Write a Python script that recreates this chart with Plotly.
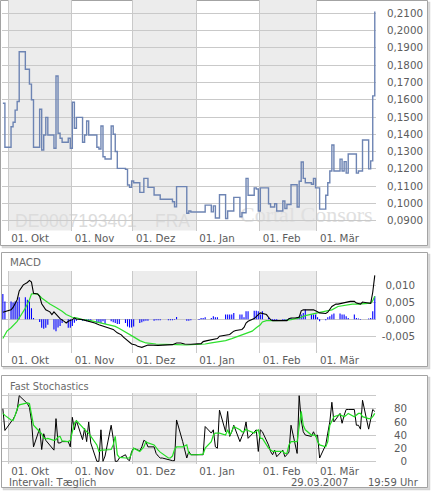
import pandas as pd
import plotly.graph_objects as go

W, H = 432, 494

# ---------------- data ----------------
price_dates = [
    "2006-09-28", "2006-09-29", "2006-10-02", "2006-10-03", "2006-10-04", "2006-10-05", "2006-10-06",
    "2006-10-09", "2006-10-11", "2006-10-12", "2006-10-13", "2006-10-16", "2006-10-17", "2006-10-18",
    "2006-10-19", "2006-10-20", "2006-10-23", "2006-10-24", "2006-10-25", "2006-10-26", "2006-10-27",
    "2006-10-30", "2006-10-31", "2006-11-01", "2006-11-02", "2006-11-03", "2006-11-06", "2006-11-07",
    "2006-11-08", "2006-11-09", "2006-11-13", "2006-11-14", "2006-11-15", "2006-11-16", "2006-11-17",
    "2006-11-20", "2006-11-21", "2006-11-22", "2006-11-23", "2006-11-27", "2006-11-28", "2006-11-29",
    "2006-11-30", "2006-12-01", "2006-12-04", "2006-12-06", "2006-12-08", "2006-12-11", "2006-12-14",
    "2006-12-20", "2006-12-21", "2006-12-22", "2006-12-27", "2006-12-28", "2006-12-29", "2007-01-05",
    "2007-01-08", "2007-01-09", "2007-01-10", "2007-01-12", "2007-01-15", "2007-01-16", "2007-01-19",
    "2007-01-22", "2007-01-23", "2007-01-25", "2007-01-26", "2007-01-29", "2007-01-30", "2007-01-31",
    "2007-02-01", "2007-02-05", "2007-02-06", "2007-02-08", "2007-02-09", "2007-02-12", "2007-02-13",
    "2007-02-14", "2007-02-16", "2007-02-19", "2007-02-20", "2007-02-21", "2007-02-22", "2007-02-23",
    "2007-02-26", "2007-02-27", "2007-02-28", "2007-03-02", "2007-03-05", "2007-03-06", "2007-03-07",
    "2007-03-08", "2007-03-09", "2007-03-12", "2007-03-13", "2007-03-14", "2007-03-15", "2007-03-16",
    "2007-03-20", "2007-03-21", "2007-03-23", "2007-03-26", "2007-03-27", "2007-03-28", "2007-03-29",
]
price_values = [
    0.1580, 0.1325, 0.1444, 0.1470, 0.1540, 0.1590, 0.1878,
    0.1776, 0.1690, 0.1600, 0.1325, 0.1545, 0.1309, 0.1396,
    0.1498, 0.1396, 0.1319, 0.1737, 0.1406, 0.1377, 0.1354,
    0.1377, 0.1319, 0.1585, 0.1435, 0.1498, 0.1354, 0.1396,
    0.1477, 0.1396, 0.1325, 0.1315, 0.1448, 0.1270, 0.1257,
    0.1448, 0.1400, 0.1300, 0.1203, 0.1197, 0.1107, 0.1093,
    0.1130, 0.1120, 0.1064, 0.1145, 0.1093, 0.1049, 0.1024,
    0.1010, 0.0980, 0.1097, 0.0943, 0.0956, 0.0950, 0.0990,
    0.0951, 0.0986, 0.0916, 0.1050, 0.0913, 0.0956, 0.1035,
    0.0923, 0.0946, 0.1145, 0.1047, 0.1090, 0.1083, 0.0956,
    0.1090, 0.0998, 0.0979, 0.0998, 0.0956, 0.1014, 0.0971,
    0.0994, 0.1108, 0.0979, 0.1128, 0.1240, 0.1145, 0.1120,
    0.1111, 0.1145, 0.1090, 0.0967, 0.1047, 0.1120, 0.1188,
    0.1338, 0.1188, 0.1256, 0.1188, 0.1242, 0.1175, 0.1286,
    0.1175, 0.1188, 0.1367, 0.1200, 0.1246, 0.1622, 0.2110,
]

macd_dates = [
    "2006-09-28", "2006-10-02", "2006-10-03", "2006-10-05", "2006-10-06", "2006-10-07", "2006-10-08",
    "2006-10-10", "2006-10-11", "2006-10-12", "2006-10-13", "2006-10-15", "2006-10-16", "2006-10-17",
    "2006-10-18", "2006-10-19", "2006-10-21", "2006-10-22", "2006-10-23", "2006-10-24", "2006-10-25",
    "2006-10-26", "2006-10-28", "2006-10-29", "2006-10-30", "2006-11-01", "2006-11-02", "2006-11-03",
    "2006-11-06", "2006-11-08", "2006-11-10", "2006-11-12", "2006-11-14", "2006-11-15", "2006-11-18",
    "2006-11-19", "2006-11-21", "2006-11-23", "2006-11-25", "2006-11-26", "2006-11-28", "2006-11-30",
    "2006-12-02", "2006-12-03", "2006-12-05", "2006-12-07", "2006-12-08", "2006-12-13", "2006-12-18",
    "2006-12-20", "2006-12-22", "2006-12-24", "2006-12-26", "2006-12-29", "2007-01-03", "2007-01-04",
    "2007-01-06", "2007-01-08", "2007-01-11", "2007-01-12", "2007-01-15", "2007-01-17", "2007-01-19",
    "2007-01-20", "2007-01-23", "2007-01-24", "2007-01-25", "2007-01-26", "2007-01-29", "2007-01-30",
    "2007-01-31", "2007-02-01", "2007-02-02", "2007-02-04", "2007-02-05", "2007-02-06", "2007-02-07",
    "2007-02-10", "2007-02-12", "2007-02-14", "2007-02-15", "2007-02-16", "2007-02-18", "2007-02-20",
    "2007-02-21", "2007-02-22", "2007-02-25", "2007-02-27", "2007-03-01", "2007-03-02", "2007-03-05",
    "2007-03-06", "2007-03-08", "2007-03-10", "2007-03-11", "2007-03-14", "2007-03-17", "2007-03-19",
    "2007-03-20", "2007-03-22", "2007-03-23", "2007-03-25", "2007-03-27", "2007-03-28", "2007-03-29",
]
macd_values = [
    0.0021, 0.0028, 0.0035, 0.0058, 0.0084, 0.0092, 0.0102,
    0.0109, 0.0115, 0.0110, 0.0077, 0.0075, 0.0068, 0.0046,
    0.0035, 0.0028, 0.0022, 0.0014, 0.0022, 0.0016, 0.0009,
    0.0002, -0.0006, -0.0011, -0.0006, -0.0001, 0.0004, 0.0001,
    -0.0001, -0.0004, -0.0006, -0.0011, -0.0016, -0.0018, -0.0024,
    -0.0027, -0.0030, -0.0040, -0.0046, -0.0053, -0.0064, -0.0073,
    -0.0076, -0.0080, -0.0083, -0.0079, -0.0076, -0.0077, -0.0077,
    -0.0075, -0.0070, -0.0070, -0.0073, -0.0074, -0.0072, -0.0066,
    -0.0063, -0.0060, -0.0057, -0.0050, -0.0048, -0.0045, -0.0035,
    -0.0033, -0.0030, -0.0024, -0.0011, -0.0006, 0.0002, 0.0009,
    0.0014, 0.0019, 0.0017, 0.0014, 0.0006, -0.0001, -0.0004,
    -0.0004, -0.0006, -0.0004, 0.0002, 0.0004, 0.0004, 0.0006,
    0.0025, 0.0028, 0.0028, 0.0028, 0.0022, 0.0019, 0.0017,
    0.0021, 0.0038, 0.0045, 0.0045, 0.0049, 0.0053, 0.0053,
    0.0048, 0.0045, 0.0051, 0.0049, 0.0047, 0.0080, 0.0130,
]

signal_dates = [
    "2006-09-28", "2006-09-30", "2006-10-02", "2006-10-05", "2006-10-06", "2006-10-09", "2006-10-11",
    "2006-10-12", "2006-10-13", "2006-10-15", "2006-10-17", "2006-10-19", "2006-10-21", "2006-10-24",
    "2006-10-27", "2006-10-29", "2006-11-01", "2006-11-03", "2006-11-06", "2006-11-10", "2006-11-13",
    "2006-11-16", "2006-11-19", "2006-11-22", "2006-11-24", "2006-11-28", "2006-12-01", "2006-12-04",
    "2006-12-07", "2006-12-12", "2006-12-17", "2006-12-22", "2006-12-27", "2007-01-03", "2007-01-05",
    "2007-01-08", "2007-01-11", "2007-01-15", "2007-01-18", "2007-01-21", "2007-01-24", "2007-01-28",
    "2007-01-30", "2007-02-01", "2007-02-02", "2007-02-04", "2007-02-06", "2007-02-10", "2007-02-13",
    "2007-02-16", "2007-02-20", "2007-02-23", "2007-02-26", "2007-03-01", "2007-03-05", "2007-03-08",
    "2007-03-11", "2007-03-14", "2007-03-18", "2007-03-21", "2007-03-24", "2007-03-27", "2007-03-28",
    "2007-03-29",
]
signal_values = [
    -0.0057, -0.0035, -0.0025, -0.0006, 0.0004, 0.0033, 0.0058,
    0.0075, 0.0076, 0.0075, 0.0063, 0.0053, 0.0045, 0.0035,
    0.0024, 0.0014, 0.0006, 0.0004, -0.0001, -0.0004, -0.0008,
    -0.0014, -0.0018, -0.0021, -0.0027, -0.0040, -0.0052, -0.0063,
    -0.0070, -0.0073, -0.0075, -0.0075, -0.0076, -0.0075, -0.0073,
    -0.0070, -0.0067, -0.0063, -0.0057, -0.0050, -0.0045, -0.0035,
    -0.0025, -0.0016, -0.0008, -0.0004, -0.0004, -0.0004, -0.0003,
    -0.0001, 0.0004, 0.0011, 0.0016, 0.0019, 0.0024, 0.0028,
    0.0038, 0.0041, 0.0045, 0.0045, 0.0046, 0.0048, 0.0055,
    0.0068,
]

# one value per trading day, 28.09.2006 - 29.03.2007
hist_values = [
    0.0075, 0.0053,
    0.0053, 0.0050, 0.0053, 0.0053, 0.0065, 0.0065, 0.0058, 0.0053, 0.0033, 0.0004,
    -0.0008, -0.0025, -0.0028, -0.0025, -0.0016, -0.0030, -0.0035, -0.0024, -0.0020, -0.0011,
    -0.0025, -0.0025,
    -0.0020, -0.0010, -0.0004, -0.0004, -0.0004, -0.0006, -0.0008, -0.0006,
    -0.0011, -0.0008, -0.0011, -0.0006, -0.0014, -0.0006, -0.0009, -0.0011, -0.0014, -0.0014,
    -0.0011, -0.0021, -0.0024, -0.0024,
    -0.0021, -0.0011, -0.0009, -0.0006, -0.0004, -0.0004, -0.0004, -0.0003, -0.0003, -0.0003,
    0.0000, -0.0003, -0.0003, -0.0003, -0.0001, 0.0007, 0.0000, 0.0000, -0.0004, -0.0004, -0.0003,
    0.0000, -0.0002, 0.0004, 0.0004, 0.0006, 0.0004, 0.0009, 0.0006, 0.0006, 0.0000,
    0.0014, 0.0014, 0.0014, 0.0014, 0.0019, 0.0014, 0.0014, 0.0006, 0.0024, 0.0024,
    0.0025, 0.0025, 0.0024,
    0.0014, 0.0024, 0.0006, -0.0004, -0.0004, -0.0003, -0.0003, -0.0003, -0.0003, -0.0003,
    0.0002, 0.0004, 0.0006, 0.0009, 0.0014, 0.0019, 0.0029, 0.0015, 0.0014, 0.0014,
    0.0006, -0.0006, -0.0003, 0.0006, 0.0009, 0.0014, 0.0017, 0.0017, 0.0014, 0.0014, 0.0009, 0.0004,
    0.0014, 0.0004, 0.0002, -0.0001, 0.0000, 0.0002, 0.0004, 0.0024, 0.0068,
]

stoch_k = [
    80, 47,
    60, 64, 70, 78, 100, 92, 88, 82, 62, 22, 50, 18, 42, 32, 28, 17, 65, 28, 28, 30, 30, 22,
    67, 48, 62, 33, 50, 30, 60, 28, 0, 0, 48, 0, 8, 55, 35, 0, 0, 5, 10, 3, 1, 15,
    20, 16, 22, 32, 30, 22, 22, 12, 8, 5, 5, 2, 2, 1, 1, 63, 30, 15, 5, 15, 10,
    10, 10, 10, 10, 53, 43, 48, 22, 20, 78, 45, 76, 38, 45, 55, 30, 38, 45, 60, 35, 45, 48, 15,
    48, 45, 25, 15, 10, 17, 7, 17, 7, 10, 14, 55, 12, 100, 63, 45, 40, 38, 45, 38,
    40, 5, 25, 43, 60, 90, 60, 73, 58, 70, 79, 79, 79, 55, 55, 49, 93, 49, 65, 79, 76,
]
stoch_d = [
    73, 70,
    63, 62, 70, 80, 86, 88, 89, 88, 70, 55, 45, 42, 35, 34, 35, 32, 33, 37, 38, 31, 30, 32,
    45, 58, 62, 52, 47, 45, 43, 38, 25, 15, 17, 17, 17, 18, 25, 38, 10, 6, 5, 5, 5, 12,
    20, 15, 18, 22, 30, 28, 25, 20, 17, 14, 12, 5, 5, 8, 18, 22, 22, 24, 25, 12, 10,
    10, 10, 10, 11, 20, 30, 40, 43, 43, 43, 40, 48, 40, 45, 53, 48, 45, 45, 49, 47, 43, 46, 48,
    35, 35, 20, 17, 15, 15, 15, 15, 12, 12, 25, 30, 30, 55, 76, 55, 48, 40, 40, 40,
    30, 25, 22, 30, 55, 62, 68, 71, 70, 68, 70, 73, 68, 70, 73, 73, 68, 65, 65, 68, 73,
]

month_ticks = ["2006-10-01", "2006-11-01", "2006-12-01", "2007-01-01", "2007-02-01", "2007-03-01"]
month_labels = ["01. Okt", "01. Nov", "01. Dez", "01. Jan", "01. Feb", "01. Mär"]
shaded_months = [("2006-10-01", "2006-11-01"), ("2006-12-01", "2007-01-01"), ("2007-02-01", "2007-03-01")]

price_ticks = [0.09, 0.10, 0.11, 0.12, 0.13, 0.14, 0.15, 0.16, 0.17, 0.18, 0.19, 0.20, 0.21]
price_labels = ["0,0900", "0,1000", "0,1100", "0,1200", "0,1300", "0,1400", "0,1500",
                "0,1600", "0,1700", "0,1800", "0,1900", "0,2000", "0,2100"]
macd_ticks = [-0.005, 0.0, 0.005, 0.010]
macd_labels = ["-0,005", "0,000", "0,005", "0,010"]
stoch_ticks = [0, 20, 40, 60, 80, 100]
stoch_labels = ["0", "20", "40", "60", "80", ""]

# ---------------- helpers ----------------
def fx(p):
    return p / W


def fy(p):
    return 1 - p / H


SHIFT = pd.Timedelta(hours=8)
trading_days = pd.bdate_range("2006-09-28", "2007-03-29") + SHIFT

FONT = "DejaVu Sans"
TXT = "#5c5c5c"
GRID = "#c9c9c9"
SHADE = "#ececec"
BLUE = "#0000ff"

fig = go.Figure()

fig.add_trace(go.Scatter(
    x=pd.to_datetime(price_dates) + SHIFT, y=price_values, mode="lines",
    line=dict(shape="hv", color="#6d84b3", width=1.4), xaxis="x", yaxis="y"))

# histogram drawn as thin vertical sticks (one per trading day)
stick_x, stick_y = [], []
for d, v in zip(trading_days, hist_values):
    stick_x += [d, d, None]
    stick_y += [0.0, v, None]
fig.add_trace(go.Scatter(
    x=stick_x, y=stick_y, mode="lines", connectgaps=False,
    line=dict(color=BLUE, width=1.1), xaxis="x2", yaxis="y2"))
fig.add_trace(go.Scatter(
    x=pd.to_datetime(signal_dates) + SHIFT, y=signal_values, mode="lines",
    line=dict(color="#2ee02e", width=1.2), xaxis="x2", yaxis="y2"))
fig.add_trace(go.Scatter(
    x=pd.to_datetime(macd_dates) + SHIFT, y=macd_values, mode="lines",
    line=dict(color="#000000", width=1.1), xaxis="x2", yaxis="y2"))

fig.add_trace(go.Scatter(
    x=trading_days, y=stoch_k, mode="lines",
    line=dict(color="#000000", width=1.0), xaxis="x3", yaxis="y3"))
fig.add_trace(go.Scatter(
    x=trading_days, y=stoch_d, mode="lines",
    line=dict(color="#22dd22", width=1.2), xaxis="x3", yaxis="y3"))

XRANGE = ["2006-09-27 16:00", "2007-03-29 22:20"]
xdom = [fx(1.5), fx(376)]


def xaxis(anchor):
    return dict(domain=xdom, range=XRANGE, type="date", anchor=anchor,
                tickvals=month_ticks, ticktext=month_labels, ticks="",
                ticklabelposition="outside right", ticklabelshift=3,
                showgrid=True, gridcolor=GRID, gridwidth=1, showline=False, zeroline=False,
                automargin=False,
                tickfont=dict(family=FONT, size=10.3, color=TXT))


def yaxis(dom, rng, vals, texts, pos):
    return dict(domain=dom, range=rng, tickvals=vals, ticktext=texts, ticks="",
                side="left", anchor="free", position=pos, automargin=False,
                showgrid=True, gridcolor=GRID, gridwidth=1, showline=False, zeroline=False,
                tickfont=dict(family=FONT, size=10.3, color=TXT))


fig.update_layout(
    width=W, height=H, autosize=False,
    margin=dict(l=0, r=0, t=0, b=0, pad=0, autoexpand=False),
    paper_bgcolor="white", plot_bgcolor="rgba(0,0,0,0)",
    showlegend=False,
    xaxis=xaxis("y"), xaxis2=xaxis("y2"), xaxis3=xaxis("y3"),
    yaxis=yaxis([fy(230.5), fy(0)], [0.08433, 0.2177], price_ticks, price_labels, fx(423)),
    yaxis2=yaxis([fy(353), fy(271)], [-0.00997, 0.01429], macd_ticks, macd_labels, fx(415)),
    yaxis3=yaxis([fy(463.5), fy(393)], [-3.35, 104.1], stoch_ticks, stoch_labels, fx(407)),
)

shapes = []
# panel frames with soft shadow
for (x0, y0, x1, y1) in [(0.5, 0.5, 427.5, 245.5), (1.5, 252.5, 427.5, 366.5), (1.5, 375.5, 427.5, 487.5)]:
    shapes.append(dict(type="rect", xref="paper", yref="paper", layer="below",
                       x0=fx(x0 + 2), x1=fx(x1 + 2), y0=fy(y0 + 2), y1=fy(y1 + 2),
                       line=dict(color="#d4d4d4", width=1.5), fillcolor="#dddddd"))
    shapes.append(dict(type="rect", xref="paper", yref="paper", layer="below",
                       x0=fx(x0), x1=fx(x1), y0=fy(y0), y1=fy(y1),
                       line=dict(color="#a3a3a3", width=1), fillcolor="white"))

# month shading per panel
for xr, (top, bot) in [("x", (0, 230.5)), ("x2", (271, 342.7)), ("x3", (393, 463.5))]:
    for a, b in shaded_months:
        shapes.append(dict(type="rect", xref=xr, yref="paper", layer="below",
                           x0=a, x1=b, y0=fy(bot), y1=fy(top),
                           line=dict(width=0), fillcolor=SHADE))


# watermarks (behind the price line)
def wm(text, x0, x1, yc, size, family, color):
    return dict(type="rect", xref="x domain", yref="y domain", layer="below",
                x0=(x0 - 1.5) / 374.5, x1=(x1 - 1.5) / 374.5,
                y0=(230.5 - (yc + 8)) / 230.5, y1=(230.5 - (yc - 8)) / 230.5,
                line=dict(width=0), fillcolor="rgba(0,0,0,0)",
                label=dict(text=text, textposition="middle left", padding=0,
                           font=dict(family=family, size=size, color=color)))


shapes.append(wm("DE0007193401", 12, 140, 219.5, 17.5, "Liberation Sans", "#dcdcdc"))
shapes.append(wm("FRA", 152, 190, 219.5, 17.5, "Liberation Sans", "#dcdcdc"))
shapes.append(wm("Cortal Consors", 237, 370, 212, 22, "Liberation Serif", "#e0e0e0"))
fig.update_layout(shapes=shapes)

ann = []


def txt(text, x, y, size=10.3, color=TXT):
    ann.append(dict(text=text, xref="paper", yref="paper", x=fx(x), y=fy(y),
                    xanchor="left", yanchor="middle", showarrow=False,
                    font=dict(family=FONT, size=size, color=color)))


txt("MACD", 7.5, 262, color="#6a6a6a")
txt("Fast Stochastics", 7.5, 386, size=9.8, color="#6a6a6a")
txt("Intervall: Tæglich", 6.5, 482.5, size=10)
txt("29.03.2007", 288.5, 482.5, size=10)
txt("19:59 Uhr", 365.5, 482.5, size=10)
fig.update_layout(annotations=ann)

fig.write_html("out.html", config={"displayModeBar": False, "staticPlot": True},
               post_script="document.body.style.margin='0';document.body.style.padding='0';")
